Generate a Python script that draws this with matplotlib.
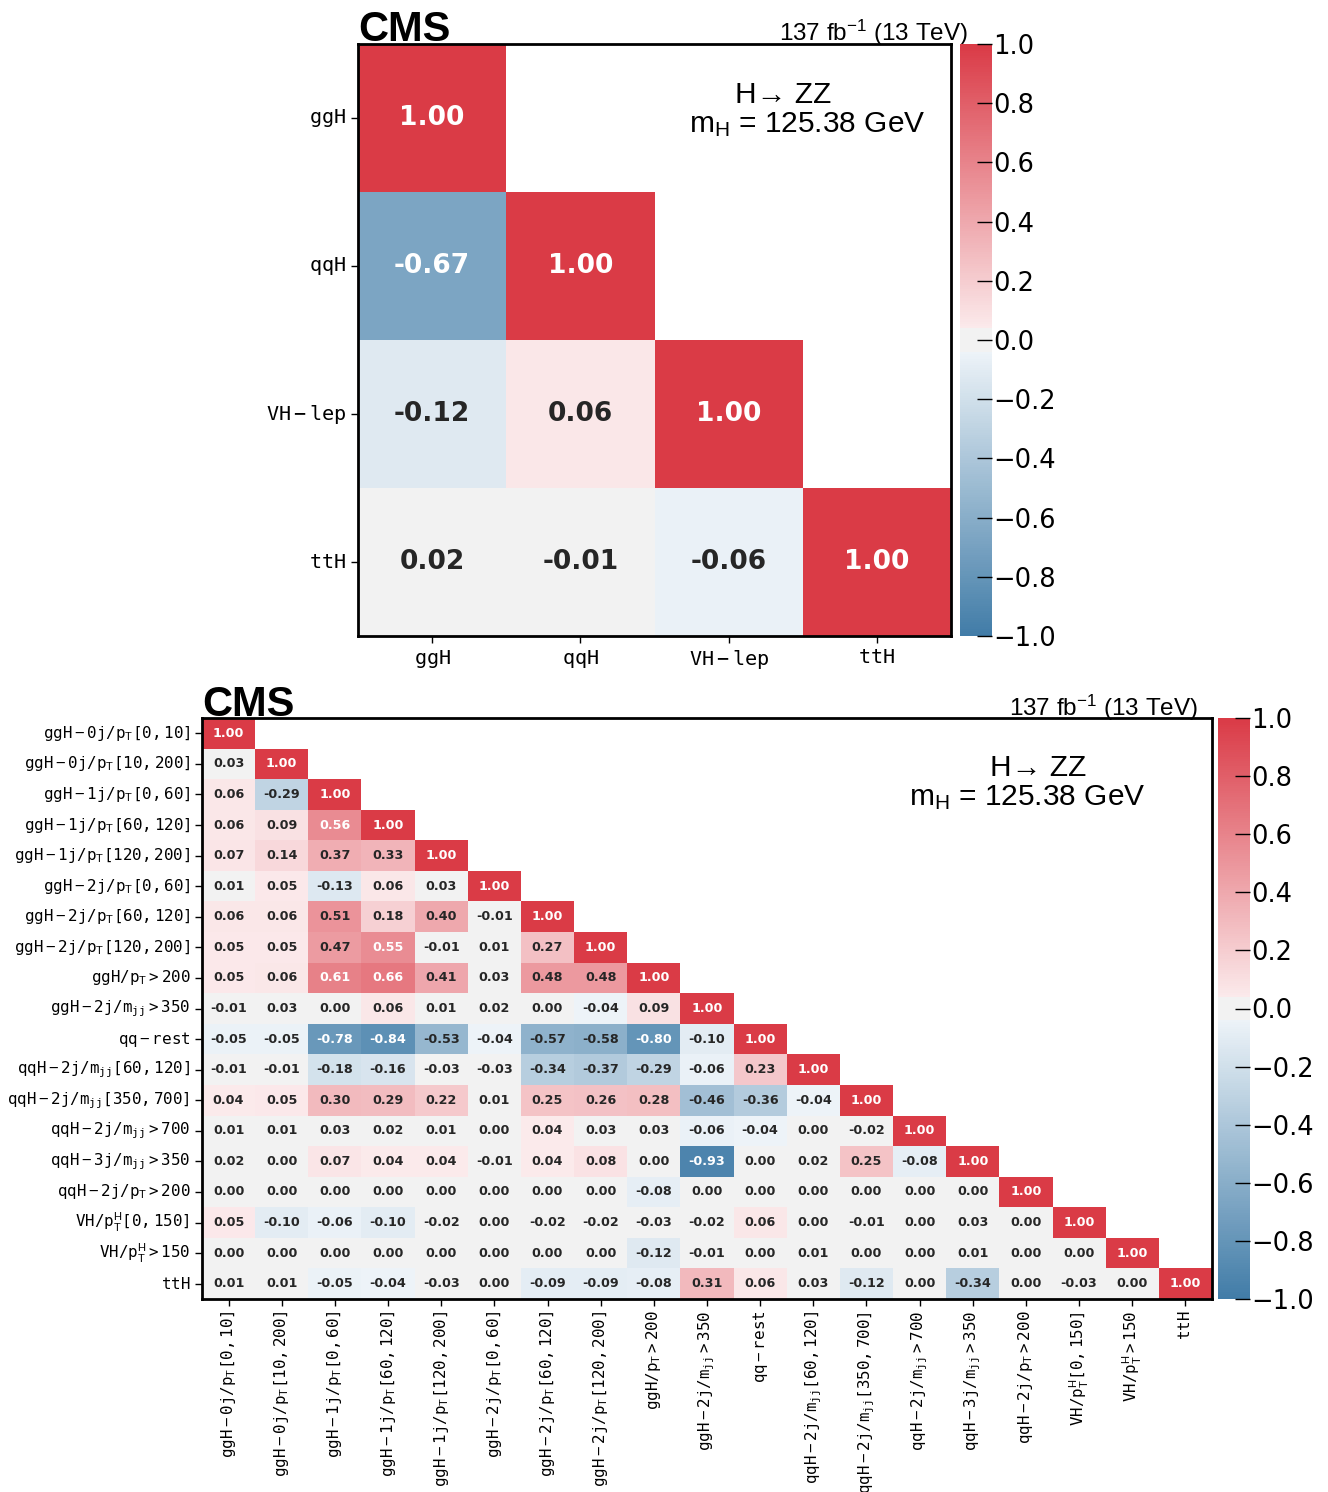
import colorsys

import numpy as np
import matplotlib
matplotlib.use("Agg")
import matplotlib.pyplot as plt
from matplotlib.colors import LinearSegmentedColormap
import seaborn as sns
from seaborn.external import husl

plt.rcParams["mathtext.fontset"] = "custom"
plt.rcParams["mathtext.rm"] = "Liberation Sans"
plt.rcParams["mathtext.it"] = "Liberation Sans:italic"
plt.rcParams["mathtext.bf"] = "Liberation Sans:bold"
plt.rcParams["mathtext.sf"] = "Liberation Sans"
plt.rcParams["mathtext.tt"] = "DejaVu Sans Mono"


# DATA  (lower triangle, row by row)

stxs0_labels = ["ggH", "qqH", "VH-lep", "ttH"]
stxs0_rows = [
    [1.00],
    [-0.67, 1.00],
    [-0.12, 0.06, 1.00],
    [0.02, -0.01, -0.06, 1.00],
]

stxs1_labels = [
    r"ggH-0j/p_\mathrm{T}[0,10]",
    r"ggH-0j/p_\mathrm{T}[10,200]",
    r"ggH-1j/p_\mathrm{T}[0,60]",
    r"ggH-1j/p_\mathrm{T}[60,120]",
    r"ggH-1j/p_\mathrm{T}[120,200]",
    r"ggH-2j/p_\mathrm{T}[0,60]",
    r"ggH-2j/p_\mathrm{T}[60,120]",
    r"ggH-2j/p_\mathrm{T}[120,200]",
    r"ggH/p_\mathrm{T}>200",
    r"ggH-2j/m_{jj}>350",
    r"qq-rest",
    r"qqH-2j/m_{jj}[60,120]",
    r"qqH-2j/m_{jj}[350,700]",
    r"qqH-2j/m_{jj}>700",
    r"qqH-3j/m_{jj}>350",
    r"qqH-2j/p_\mathrm{T}>200",
    r"VH/p_\mathrm{T}^\mathrm{H}[0,150]",
    r"VH/p_\mathrm{T}^\mathrm{H}>150",
    r"ttH",
]
stxs1_rows = [
    [1.00],
    [0.03, 1.00],
    [0.06, -0.29, 1.00],
    [0.06, 0.09, 0.56, 1.00],
    [0.07, 0.14, 0.37, 0.33, 1.00],
    [0.01, 0.05, -0.13, 0.06, 0.03, 1.00],
    [0.06, 0.06, 0.51, 0.18, 0.40, -0.01, 1.00],
    [0.05, 0.05, 0.47, 0.55, -0.01, 0.01, 0.27, 1.00],
    [0.05, 0.06, 0.61, 0.66, 0.41, 0.03, 0.48, 0.48, 1.00],
    [-0.01, 0.03, 0.00, 0.06, 0.01, 0.02, 0.00, -0.04, 0.09, 1.00],
    [-0.05, -0.05, -0.78, -0.84, -0.53, -0.04, -0.57, -0.58, -0.80, -0.10, 1.00],
    [-0.01, -0.01, -0.18, -0.16, -0.03, -0.03, -0.34, -0.37, -0.29, -0.06, 0.23, 1.00],
    [0.04, 0.05, 0.30, 0.29, 0.22, 0.01, 0.25, 0.26, 0.28, -0.46, -0.36, -0.04, 1.00],
    [0.01, 0.01, 0.03, 0.02, 0.01, 0.00, 0.04, 0.03, 0.03, -0.06, -0.04, 0.00, -0.02, 1.00],
    [0.02, 0.00, 0.07, 0.04, 0.04, -0.01, 0.04, 0.08, 0.00, -0.93, 0.00, 0.02, 0.25, -0.08, 1.00],
    [0.00, 0.00, 0.00, 0.00, 0.00, 0.00, 0.00, 0.00, -0.08, 0.00, 0.00, 0.00, 0.00, 0.00, 0.00, 1.00],
    [0.05, -0.10, -0.06, -0.10, -0.02, 0.00, -0.02, -0.02, -0.03, -0.02, 0.06, 0.00, -0.01, 0.00, 0.03, 0.00, 1.00],
    [0.00, 0.00, 0.00, 0.00, 0.00, 0.00, 0.00, 0.00, -0.12, -0.01, 0.00, 0.01, 0.00, 0.00, 0.01, 0.00, 0.00, 1.00],
    [0.01, 0.01, -0.05, -0.04, -0.03, 0.00, -0.09, -0.09, -0.08, 0.31, 0.06, 0.03, -0.12, 0.00, -0.34, 0.00, -0.03, 0.00, 1.00],
]


def to_matrix(rows):
    n = len(rows)
    m = np.zeros((n, n))
    for i, r in enumerate(rows):
        m[i, :len(r)] = r
    return m


def diverging_cmap(h_neg=240, h_pos=10, s=75, l=50, sep=10):
    """Blue-grey-red diverging map (old-style seaborn, light ends at HLS l=.95)."""
    def half(h):
        full = np.array(husl.husl_to_rgb(h, s, l))
        hh, _, ss = colorsys.rgb_to_hls(*np.clip(full, 0, 1))
        light = np.array(colorsys.hls_to_rgb(hh, .95, ss))
        return full, light

    n_half = 128 - sep // 2
    b_full, b_light = half(h_neg)
    r_full, r_light = half(h_pos)
    t = np.linspace(0, 1, n_half)[:, None]
    neg = b_full + (b_light - b_full) * t
    pos = r_light + (r_full - r_light) * t
    mid = np.tile([.95, .95, .95], (sep, 1))
    colors = np.clip(np.concatenate([neg, mid, pos]), 0, 1)
    return LinearSegmentedColormap.from_list("corr", colors)


def draw_corr(fig, ax_rect, cb_rect, rows, labels, annot_size, label_size,
              xrot, text_pos):
    corr = to_matrix(rows)
    mask = np.triu(np.ones_like(corr, dtype=bool), k=1)
    tick_labels = [r"$\mathtt{" + l + "}$" for l in labels]

    ax = fig.add_axes(ax_rect)
    cax = fig.add_axes(cb_rect)
    sns.heatmap(corr, mask=mask, cmap=diverging_cmap(), vmin=-1, vmax=1,
                annot=True, fmt=".2f", annot_kws={"size": annot_size, "weight": "bold"},
                xticklabels=tick_labels, yticklabels=tick_labels,
                ax=ax, cbar_ax=cax)

    # white text on the strongly coloured cells, dark elsewhere
    for t in ax.texts:
        v = float(t.get_text())
        t.set_color("w" if (v > 0.52 or v < -0.6) else "0.15")

    for sp in ax.spines.values():
        sp.set_visible(True)
        sp.set_linewidth(2)
    ax.tick_params(axis="both", length=5, width=1, labelsize=label_size)
    plt.setp(ax.get_yticklabels(), rotation=0)
    plt.setp(ax.get_xticklabels(), rotation=xrot)

    cax.set_yticks(np.linspace(-1, 1, 11))
    cax.tick_params(direction="in", length=11, width=1, labelsize=18.5, pad=1)

    # CMS label, luminosity and process text
    ax.text(0.0, text_pos["cms_y"], "CMS", transform=ax.transAxes,
            family="Liberation Sans", weight="bold", fontsize=30, va="baseline")
    ax.text(text_pos["lumi_x"], text_pos["cms_y"], r"137 fb$^{-1}$ (13 TeV)",
            transform=ax.transAxes, family="Liberation Sans", fontsize=17.5,
            ha="right", va="baseline")
    ax.text(text_pos["hzz"][0], text_pos["hzz"][1], "H\u2192 ZZ",
            transform=ax.transAxes, family="Liberation Sans", fontsize=21.5,
            ha="center", va="baseline")
    ax.text(text_pos["mh"][0], text_pos["mh"][1], r"m$_\mathrm{H}$ = 125.38 GeV",
            transform=ax.transAxes, family="Liberation Sans", fontsize=21.5,
            ha="center", va="baseline")
    return ax


def main():
    W, H = 1328, 1492
    fig = plt.figure(figsize=(W / 100, H / 100), dpi=100)

    def rect(x0, y0, x1, y1):
        return [x0 / W, 1 - y1 / H, (x1 - x0) / W, (y1 - y0) / H]

    # STXS stage 0
    draw_corr(fig, rect(358, 44, 951, 636), rect(960, 44, 992, 636),
              stxs0_rows, stxs0_labels, annot_size=19, label_size=14.5, xrot=0,
              text_pos={"cms_y": 1.005, "lumi_x": 1.029,
                        "hzz": (0.717, 0.900), "mh": (0.757, 0.851)})

    # STXS stage 1.2 (reduced)
    draw_corr(fig, rect(202, 718, 1212, 1299), rect(1218, 718, 1250, 1299),
              stxs1_rows, stxs1_labels, annot_size=9.2, label_size=11.4, xrot=90,
              text_pos={"cms_y": 1.003, "lumi_x": 0.986,
                        "hzz": (0.828, 0.900), "mh": (0.817, 0.850)})

    fig.savefig("out.png", dpi=100)
    plt.close(fig)


if __name__ == "__main__":
    main()
